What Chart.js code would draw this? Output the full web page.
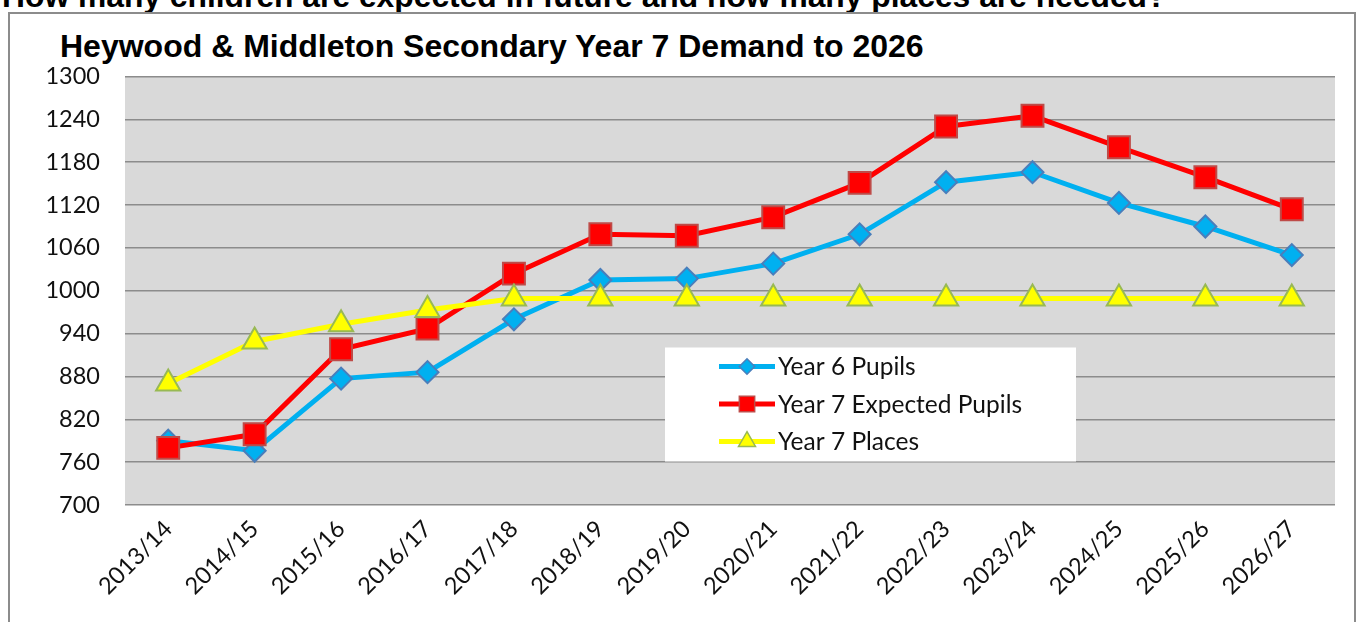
<!DOCTYPE html>
<html>
<head>
<meta charset="utf-8">
<script src="https://cdn.jsdelivr.net/npm/chart.js@4.4.1/dist/chart.umd.min.js"></script>
<style>
    body { margin: 0; background: #fff; width: 1360px; height: 622px; overflow: hidden; position: relative; }
    .heading, .title { position: absolute; line-height: 32px; font: bold 32px "Liberation Sans", Arial, sans-serif; white-space: nowrap; color: #000; }
    .heading { left: 2px; top: -22px; font-size: 31.8px; }
    .title { left: 60px; top: 28px; }
    .frame { position: absolute; left: 8px; top: 12px; width: 1348px; height: 640px; border: 2px solid #8c8c8c; box-sizing: border-box; }
    .wrap { position: absolute; left: 0; top: 0; width: 1360px; height: 622px; }
</style>
</head>
<body>
<div class="heading">How many children are expected in future and how many places are needed?</div>
<div class="frame"></div>
<div class="title">Heywood &amp; Middleton Secondary Year 7 Demand to 2026</div>
<div class="wrap"><canvas id="chart"></canvas></div>
<script>
// Data
var years = ['2013/14', '2014/15', '2015/16', '2016/17', '2017/18', '2018/19', '2019/20',
    '2020/21', '2021/22', '2022/23', '2023/24', '2024/25', '2025/26', '2026/27']
var year6Pupils = [790, 776, 877, 886, 960, 1015, 1017, 1038, 1079, 1152, 1166, 1123, 1090, 1050]
var year7Expected = [780, 799, 918, 947, 1024, 1079, 1077, 1103, 1151, 1230, 1245, 1201, 1159, 1114]
var year7Places = [870, 929, 953, 973, 989, 989, 989, 989, 989, 989, 989, 989, 989, 989]
var yMin = 700, yMax = 1300, yStep = 60

var labelFont = { family: 'Lato', size: 23.5 }

// grey plot background
var plotBg = {
    id: 'plotBg',
    beforeDraw: function (chart) {
        var a = chart.chartArea
        var ctx = chart.ctx
        ctx.save()
        ctx.fillStyle = '#d9d9d9'
        ctx.fillRect(a.left, a.top, a.right - a.left, a.bottom - a.top)
        ctx.restore()
    }
}

// legend box sitting inside the plot, like the Excel one
var boxLegend = {
    id: 'boxLegend',
    afterDatasetsDraw: function (chart) {
        var a = chart.chartArea
        var ctx = chart.ctx
        var left = a.left + 540, top = a.top + 271
        ctx.save()
        ctx.fillStyle = '#fff'
        ctx.fillRect(left, top, 411, 114)
        chart.data.datasets.forEach(function (ds, i) {
            var y = top + 19 + i * 37.5
            ctx.strokeStyle = ds.borderColor
            ctx.lineWidth = ds.borderWidth
            ctx.beginPath()
            ctx.moveTo(left + 54, y)
            ctx.lineTo(left + 110, y)
            ctx.stroke()
            ctx.fillStyle = ds.pointBackgroundColor
            ctx.strokeStyle = ds.pointBorderColor
            ctx.lineWidth = 1.5
            Chart.helpers.drawPoint(ctx, { pointStyle: ds.pointStyle, radius: ds.pointRadius * 0.7, borderWidth: 1.5 }, left + 82, y)
            ctx.fillStyle = '#111'
            ctx.font = '24.5px Lato'
            ctx.textBaseline = 'middle'
            ctx.fillText(ds.label, left + 113, y + 1)
        })
        ctx.restore()
    }
}

new Chart(document.getElementById('chart'), {
    type: 'line',
    data: {
        labels: years,
        datasets: [
            {
                label: 'Year 6 Pupils',
                data: year6Pupils,
                borderColor: '#00b0f0',
                borderWidth: 5,
                pointStyle: 'rectRot',
                pointRadius: 11,
                pointBackgroundColor: '#00b0f0',
                pointBorderColor: '#4a7ebb',
                pointBorderWidth: 2,
                order: 3
            },
            {
                label: 'Year 7 Expected Pupils',
                data: year7Expected,
                borderColor: '#ff0000',
                borderWidth: 5,
                pointStyle: 'rect',
                pointRadius: 15.5,
                pointBackgroundColor: '#ff0000',
                pointBorderColor: '#be4b48',
                pointBorderWidth: 2,
                order: 2
            },
            {
                label: 'Year 7 Places',
                data: year7Places,
                borderColor: '#ffff00',
                borderWidth: 5,
                pointStyle: 'triangle',
                pointRadius: 14,
                pointBackgroundColor: '#ffff00',
                pointBorderColor: '#98b954',
                pointBorderWidth: 2,
                order: 1
            }
        ]
    },
    options: {
        responsive: true,
        maintainAspectRatio: false,
        animation: false,
        layout: { padding: { left: 20, right: 25, top: 76.5, bottom: 0 } },
        plugins: {
            legend: { display: false },
            tooltip: { enabled: false },
            title: { display: false }
        },
        scales: {
            x: {
                offset: true,
                grid: { display: false, drawTicks: false },
                border: { display: false },
                ticks: { minRotation: 45, maxRotation: 45, padding: 10, color: '#111', font: labelFont },
                afterFit: function (scale) { scale.height = 117 }
            },
            y: {
                min: yMin,
                max: yMax,
                grid: { color: '#8c8c8c', lineWidth: 1.5, drawTicks: false },
                border: { display: false },
                ticks: {
                    stepSize: yStep, padding: 25, color: '#111', font: labelFont,
                    callback: function (value) { return String(value) }
                },
                afterFit: function (scale) { scale.width = 105 }
            }
        }
    },
    plugins: [plotBg, boxLegend]
})
</script>
</body>
</html>
